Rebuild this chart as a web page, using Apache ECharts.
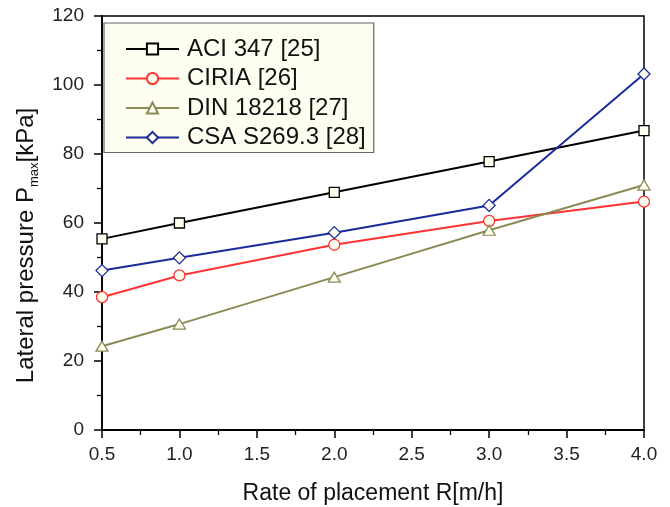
<!DOCTYPE html>
<html>
<head>
    <meta charset="utf-8">
    <title>Lateral pressure vs rate of placement</title>
    <script src="https://cdn.jsdelivr.net/npm/echarts@6/dist/echarts.min.js"></script>
    <style>
        html, body { margin: 0; padding: 0; background: #fff; }
        #main { width: 670px; height: 507px; }
    </style>
</head>
<body>
<div id="main"></div>
<script type="text/javascript">
    // rate of placement R [m/h]
    var rates = [0.5, 1.0, 2.0, 3.0, 4.0];
    // lateral pressure P_max [kPa]
    var aci347 = [55.4, 60.0, 68.9, 77.8, 86.8];
    var ciria = [38.5, 44.8, 53.7, 60.6, 66.2];
    var din18218 = [24.3, 30.7, 44.3, 57.9, 71.0];
    var csaS269 = [46.2, 49.9, 57.2, 65.1, 103.2];

    var seriesNames = ['ACI 347 [25]', 'CIRIA [26]', 'DIN 18218 [27]', 'CSA S269.3 [28]'];
    var seriesColors = ['#000000', '#ff3333', '#8c8a55', '#1b2a9a'];
    var seriesSymbols = ['rect', 'circle', 'triangle', 'diamond'];
    var symbolSizes = [10, 11, [12, 10], [12, 12]];
    var seriesValues = [aci347, ciria, din18218, csaS269];

    function pairs(ys) {
        var out = [];
        for (var i = 0; i < rates.length; i++) {
            out.push([rates[i], ys[i]]);
        }
        return out;
    }

    var series = [];
    for (var k = 0; k < seriesNames.length; k++) {
        series.push({
            name: seriesNames[k],
            type: 'line',
            symbol: seriesSymbols[k],
            symbolSize: symbolSizes[k],
            lineStyle: { color: seriesColors[k], width: 2 },
            itemStyle: { color: '#fffff0', borderColor: seriesColors[k], borderWidth: 1.3 },
            data: pairs(seriesValues[k])
        });
    }

    var myChart = echarts.init(document.getElementById('main'));
    myChart.setOption({
        animation: false,
        textStyle: { fontFamily: 'Liberation Sans, Arial, sans-serif' },
        grid: {
            left: 102, right: 26, top: 16, bottom: 77,
            outerBoundsMode: 'none',
            show: true, borderColor: '#000', borderWidth: 1.5
        },
        legend: {
            orient: 'vertical',
            left: 104, top: 23,
            padding: [13, 8, 2, 21],
            itemWidth: 53, itemHeight: 14,
            itemGap: 3.5,
            backgroundColor: '#fdfdf0',
            borderColor: '#666',
            borderWidth: 1.2,
            textStyle: { fontSize: 24, color: '#111', lineHeight: 26, padding: [0, 0, 0, 3] },
            data: seriesNames
        },
        xAxis: {
            type: 'value',
            min: 0.5, max: 4.0, interval: 0.5,
            name: 'Rate of placement R[m/h]',
            nameLocation: 'middle',
            nameGap: 52,
            nameTextStyle: { fontSize: 23, color: '#111' },
            axisLine: { onZero: false, lineStyle: { color: '#000', width: 1.8 } },
            axisTick: { inside: false, length: 8, lineStyle: { width: 1.5 } },
            minorTick: { show: true, splitNumber: 2, length: 5, lineStyle: { color: '#000', width: 1.3 } },
            axisLabel: {
                fontSize: 19, color: '#222', margin: 15,
                formatter: function (v) { return v.toFixed(1); }
            },
            splitLine: { show: false }
        },
        yAxis: {
            type: 'value',
            min: 0, max: 120, interval: 20,
            name: 'Lateral pressure P{s|max}[kPa]',
            nameLocation: 'middle',
            nameGap: 52,
            nameTextStyle: {
                fontSize: 24, color: '#111', lineHeight: 30,
                padding: [0, 45, 0, 0],
                rich: {
                    s: { fontSize: 13, lineHeight: 13, verticalAlign: 'bottom', color: '#111' }
                }
            },
            axisLine: { onZero: false, lineStyle: { color: '#000', width: 1.8 } },
            axisTick: { inside: false, length: 8, lineStyle: { width: 1.5 } },
            minorTick: { show: true, splitNumber: 2, length: 5, lineStyle: { color: '#000', width: 1.3 } },
            axisLabel: { fontSize: 19, color: '#222', margin: 18 },
            splitLine: { show: false }
        },
        series: series
    });
</script>
</body>
</html>
